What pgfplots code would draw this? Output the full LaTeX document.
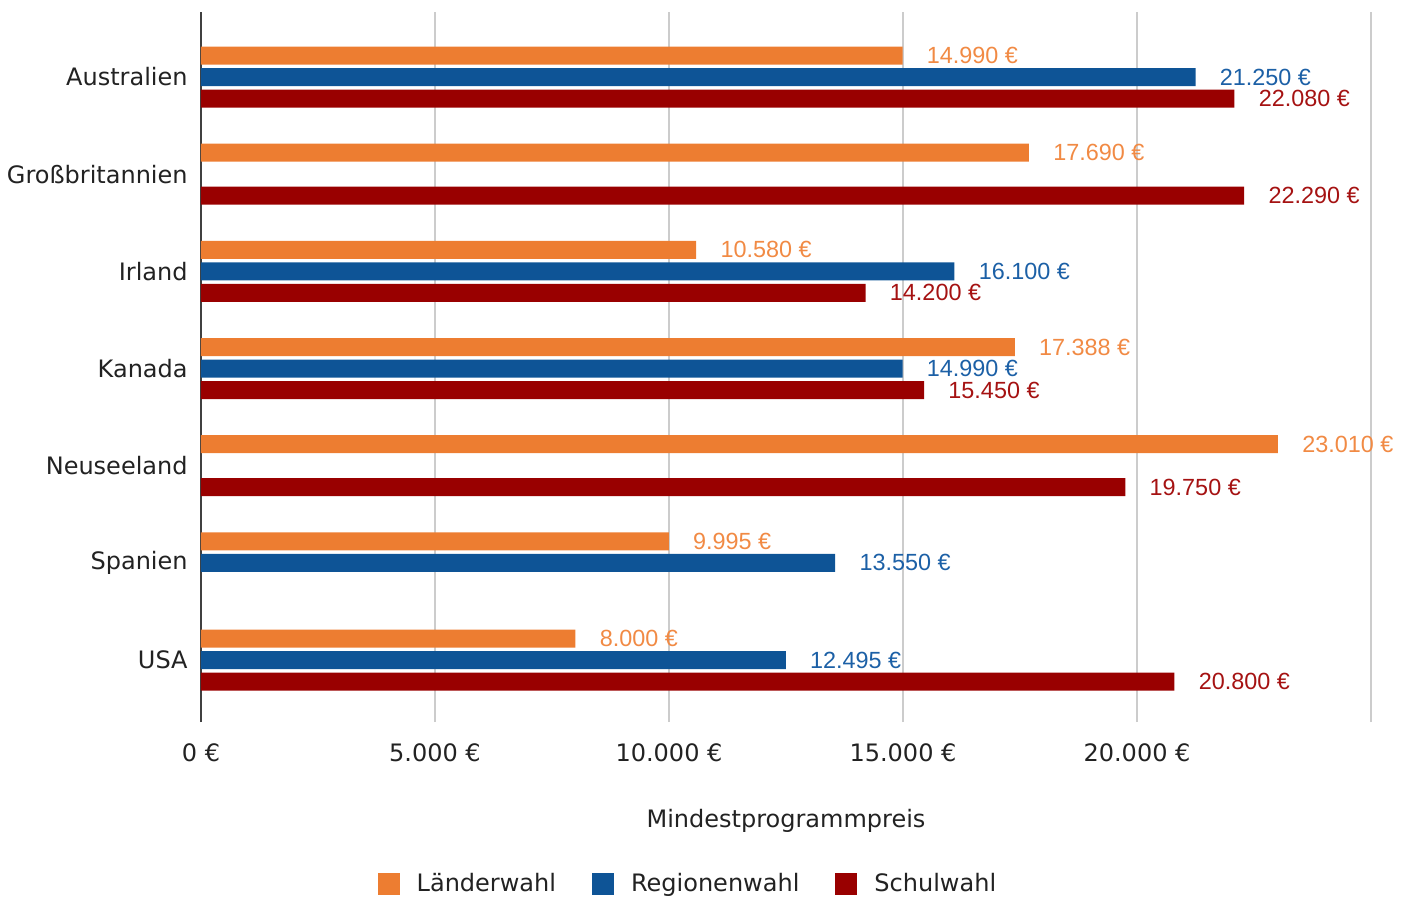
\documentclass[border=0pt]{standalone}
\usepackage{pgfplots}
\usepackage{pgfplotstable}
\pgfplotsset{compat=1.18}
\usepackage{fontspec}
\setmainfont{DejaVu Sans}
\newfontfamily\valfont{Liberation Sans}

\definecolor{cor}{RGB}{237,125,49}
\definecolor{cbl}{RGB}{14,84,150}
\definecolor{crd}{RGB}{153,0,0}
\definecolor{lor}{RGB}{241,138,68}
\definecolor{lbl}{RGB}{28,96,166}
\definecolor{lrd}{RGB}{165,18,18}
\definecolor{txt}{RGB}{34,34,34}

% y: 6 = Australien ... 0 = USA
\pgfplotstableread{
y x
6 14990
5 17690
4 10580
3 17388
2 23010
1 9995
0 8000
}\laender
\pgfplotstableread{
y x
6 21250
4 16100
3 14990
1 13550
0 12495
}\regionen
\pgfplotstableread{
y x
6 22080
5 22290
4 14200
3 15450
2 19750
0 20800
}\schul

\begin{document}
\begin{tikzpicture}
\begin{axis}[
  name=ax,
  scale only axis,
  width=585pt, height=355pt,
  xbar, bar width=9pt,
  xmin=0, xmax=25000,
  ymin=-0.638, ymax=6.669,
  scaled x ticks=false,
  xtick={0,5000,10000,15000,20000,25000},
  xticklabels={0 €,5.000 €,10.000 €,15.000 €,20.000 €,},
  ytick={0,1,2,3,4,5,6},
  yticklabels={USA,Spanien,Neuseeland,Kanada,Irland,Großbritannien,Australien},
  major tick length=0pt,
  axis line style={draw=none},
  xmajorgrids,
  grid style={draw=black!20, line width=0.6pt},
  extra x ticks={0},
  extra x tick labels={},
  extra x tick style={grid style={draw=black!75, line width=0.7pt}},
  xticklabel style={anchor=center, yshift=-15.5pt, font=\fontsize{12}{14}\selectfont, text=txt},
  yticklabel style={anchor=east, inner sep=0pt, xshift=-6.5pt, font=\fontsize{12}{14}\selectfont, text=txt},
  xlabel={Mindestprogrammpreis},
  xlabel style={at={(axis description cs:0.5,0)}, anchor=center, yshift=-49.5pt, font=\fontsize{12}{14}\selectfont, text=txt},
  point meta=x,
  nodes near coords={\pgfmathprintnumber[fixed, precision=0, 1000 sep={.}, assume math mode=true]{\pgfplotspointmeta}~€},
  nodes near coords style={anchor=west, inner sep=0pt, xshift=12pt, font=\valfont\fontsize{11.7}{13}\selectfont},
  legend style={at={(axis description cs:0.417,-0.228)}, anchor=center, draw=none,
    font=\fontsize{12}{14}\selectfont, text=txt,
    /tikz/every odd column/.append style={column sep=6.5pt},
    /tikz/every even column/.append style={column sep=16pt}},
  legend columns=-1,
  clip=false,
]
\addplot[draw=none, fill=cor, bar shift=10.75pt, nodes near coords style={text=lor},
  legend image code/.code={\fill[cor] (0pt,-5.5pt) rectangle (11pt,5.5pt);}]
  table[x=x,y=y] {\laender};
\addplot[draw=none, fill=cbl, bar shift=0pt, nodes near coords style={text=lbl},
  legend image code/.code={\fill[cbl] (0pt,-5.5pt) rectangle (11pt,5.5pt);}]
  table[x=x,y=y] {\regionen};
\addplot[draw=none, fill=crd, bar shift=-10.75pt, nodes near coords style={text=lrd},
  legend image code/.code={\fill[crd] (0pt,-5.5pt) rectangle (11pt,5.5pt);}]
  table[x=x,y=y] {\schul};
\legend{Länderwahl,Regionenwahl,Schulwahl}
\end{axis}
\pgfresetboundingbox
\path ([xshift=-100.5pt,yshift=-87.5pt]ax.south west) rectangle ([xshift=20.5pt,yshift=6pt]ax.north east);
\end{tikzpicture}
\end{document}
